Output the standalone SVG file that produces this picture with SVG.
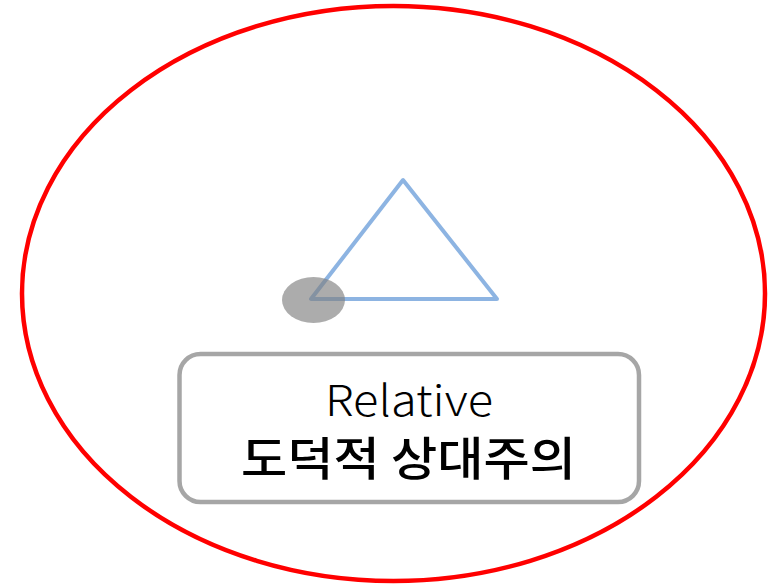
<svg xmlns="http://www.w3.org/2000/svg" width="779" height="584" viewBox="0 0 779 584">
<style>
.lat{font-family:"Noto Sans CJK KR","Liberation Sans",sans-serif;font-weight:300;font-size:43px;fill:#000;}
.kor{font-family:"Noto Sans CJK KR",sans-serif;font-weight:500;font-size:46px;fill:#000;}
</style>
<rect width="779" height="584" fill="#fff"/>
<g id="outer">
<ellipse cx="393.5" cy="293.5" rx="371.5" ry="287.5" fill="none" stroke="#ff0000" stroke-width="4.5"/>
</g>
<g id="triangle">
<polygon points="403,180 311,299 497,299" fill="none" stroke="#8db4e2" stroke-width="4" stroke-linejoin="round"/>
</g>
<g id="dot">
<ellipse cx="313.5" cy="300" rx="31.5" ry="23" fill="#808080" fill-opacity="0.65"/>
</g>
<g id="label">
<rect x="179.5" y="354" width="459.5" height="148" rx="21" fill="none" stroke="#a6a6a6" stroke-width="4.5"/>
<text class="lat" x="409" y="416" text-anchor="middle" textLength="168" lengthAdjust="spacingAndGlyphs">Relative</text>
<text class="kor" x="408.5" y="475" text-anchor="middle" textLength="335" lengthAdjust="spacingAndGlyphs">도덕적 상대주의</text>
</g>
<g id="connectors"/>
</svg>
